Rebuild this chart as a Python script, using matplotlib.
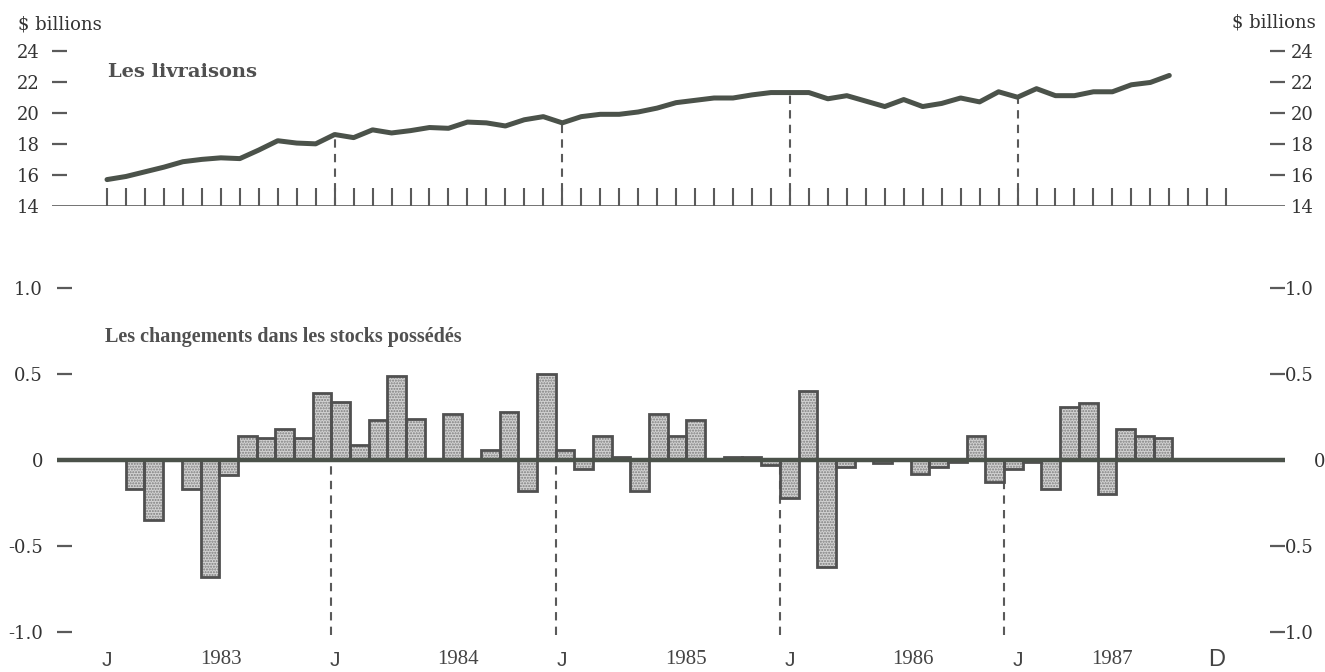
import matplotlib
matplotlib.use('Agg')
import matplotlib.pyplot as plt
import matplotlib.transforms as mtransforms
import numpy as np

# months counted from January 1983 (= 0) to December 1987 (= 59)
months = np.arange(60)

# deliveries, $ billions, Jan 1983 - Sep 1987
deliveries = [15.7, 15.9, 16.2, 16.5, 16.85, 17.0, 17.1, 17.05, 17.6, 18.2,
              18.05, 18.0, 18.6, 18.4, 18.9, 18.7, 18.85, 19.05, 19.0, 19.4,
              19.35, 19.15, 19.55, 19.75, 19.35, 19.75, 19.9, 19.9, 20.05, 20.3,
              20.65, 20.8, 20.95, 20.95, 21.15, 21.3, 21.3, 21.3, 20.9, 21.1,
              20.75, 20.4, 20.85, 20.4, 20.6, 20.95, 20.7, 21.35, 21.0, 21.55,
              21.1, 21.1, 21.35, 21.35, 21.8, 21.95, 22.4]

# change in inventories owned, $ billions, Jan 1983 - Sep 1987
stock_change = [0.0, -0.17, -0.35, 0.0, -0.17, -0.68, -0.09, 0.14, 0.13, 0.18,
                0.13, 0.39, 0.34, 0.09, 0.23, 0.49, 0.24, 0.0, 0.27, 0.0,
                0.06, 0.28, -0.18, 0.50, 0.06, -0.05, 0.14, 0.02, -0.18, 0.27,
                0.14, 0.23, 0.0, 0.02, 0.02, -0.03, -0.22, 0.40, -0.62, -0.04,
                0.0, -0.02, 0.0, -0.08, -0.04, -0.01, 0.14, -0.13, -0.05, -0.01,
                -0.17, 0.31, 0.33, -0.20, 0.18, 0.14, 0.13]

jan_marks = [12, 24, 36, 48]
month_letters = ['J', 'J', 'J', 'J', 'J', 'D']
letter_pos = [0, 12, 24, 36, 48, 58.5]
years = ['1983', '1984', '1985', '1986', '1987']
year_pos = [6, 18.5, 30.5, 42.5, 53]

top_ticks = [16, 18, 20, 22, 24]
bot_ticks = [1.0, 0.5, -0.5, -1.0]
bot_left_labels = ['1.0', '0.5', '-0.5', '-1.0']
bot_right_labels = ['1.0', '0.5', '0.5', '1.0']

W, H = 1325, 672
SERIF = 'DejaVu Serif'
TXT = '#333333'
DARK = '#4b524a'
GREY = '#5a5a5a'

fig = plt.figure(figsize=(W / 100, H / 100), dpi=100)
fig.patch.set_facecolor('white')


def px_axes(left, top, right, bottom):
    return fig.add_axes([left / W, 1 - bottom / H, (right - left) / W, (bottom - top) / H])


def style_y(ax, side, ticks, labels, zero, zero_label, pad, zero_pad):
    ax.set_yticks(ticks, labels=labels)
    ax.set_yticks([zero], labels=[zero_label], minor=True)
    on_left = side == 'left'
    ax.tick_params(axis='y', which='both', left=on_left, right=not on_left,
                   labelleft=on_left, labelright=not on_left)
    ax.tick_params(axis='y', which='major', direction='in', length=11, width=1.6,
                   color=GREY, pad=pad, labelsize=13, labelcolor=TXT)
    ax.tick_params(axis='y', which='minor', length=0, pad=zero_pad,
                   labelsize=13, labelcolor=TXT)
    for lab in ax.get_yticklabels(which='both'):
        lab.set_fontfamily(SERIF)
    for s in ax.spines.values():
        s.set_visible(False)


# ---------------- deliveries ----------------
ax1 = px_axes(52, 206 - 10.6 * 15.54, 1285, 206)
ax1.set_xlim(-2.9, 62.1)
ax1.set_ylim(14, 24.6)
ax1.set_xticks([])
ax1.patch.set_alpha(0)
ax1r = ax1.twinx()
ax1r.set_ylim(ax1.get_ylim())
style_y(ax1, 'left', top_ticks, [str(t) for t in top_ticks], 14, '14', 9, 9)
style_y(ax1r, 'right', top_ticks, [str(t) for t in top_ticks], 14, '14', 4, 4)

ax1.axhline(14, color='#666666', lw=2)
ax1.vlines(months, 14, 15.16, color=GREY, lw=1.5)
ax1.vlines(jan_marks, 14, [deliveries[m] for m in jan_marks],
           colors=GREY, lw=1.5, linestyles=(0, (4, 3)))
ax1.plot(months[:len(deliveries)], deliveries, color=DARK, lw=3.6,
         solid_joinstyle='round', solid_capstyle='round', zorder=3)

# ---------------- inventory change ----------------
ax2 = px_axes(57, 460 - 1.1 * 172, 1285, 460 + 1.1 * 172)
ax2.set_xlim(-2.68, 63.03)
ax2.set_ylim(-1.1, 1.1)
ax2.set_xticks([])
ax2.patch.set_alpha(0)
ax2r = ax2.twinx()
ax2r.set_ylim(ax2.get_ylim())
style_y(ax2, 'left', bot_ticks, bot_left_labels, 0, '0', 10, 10)
style_y(ax2r, 'right', bot_ticks, bot_right_labels, 0, '0', 0, 21)

bx = months[:len(stock_change)]
ax2.vlines(jan_marks, -1.02, 0, colors=GREY, lw=1.5, linestyles=(0, (4, 3)), zorder=1)
ax2.bar(bx, stock_change, width=1, align='edge', color='#d2d2d2', hatch='......',
        edgecolor='#7d7d7d', linewidth=0, zorder=2)
ax2.bar(bx, stock_change, width=1, align='edge', fill=False,
        edgecolor='#505050', linewidth=2, zorder=3)
ax2.axhline(0, color=DARK, lw=3.2, zorder=4)

# ---------------- texts ----------------
fig.text(18 / W, 1 - 25 / H, '$ billions', family=SERIF, fontsize=13, color=TXT,
         ha='left', va='center')
fig.text(1316 / W, 1 - 22 / H, '$ billions', family=SERIF, fontsize=13, color=TXT,
         ha='right', va='center')
fig.text(108 / W, 1 - 72 / H, 'Les livraisons', family=SERIF, fontsize=14,
         fontweight='bold', color='#505050', ha='left', va='center')
fig.text(105 / W, 1 - 337 / H, 'Les changements dans les stocks possédés',
         family='Liberation Serif', fontsize=14.5, fontweight='bold', color='#505050',
         ha='left', va='center')

lab_tr = mtransforms.blended_transform_factory(ax1.transData, fig.transFigure)
for x, s in zip(letter_pos, month_letters):
    fig.text(x, 1 - 660 / H, s, transform=lab_tr, family='Liberation Sans',
             fontsize=17 if s == 'D' else 15, color='#444444', ha='center', va='center')
for x, s in zip(year_pos, years):
    fig.text(x, 1 - 660 / H, s, transform=lab_tr, family='Liberation Serif',
             fontsize=15, color='#444444', ha='center', va='center')

fig.savefig('out.png', dpi=100, facecolor='white')
